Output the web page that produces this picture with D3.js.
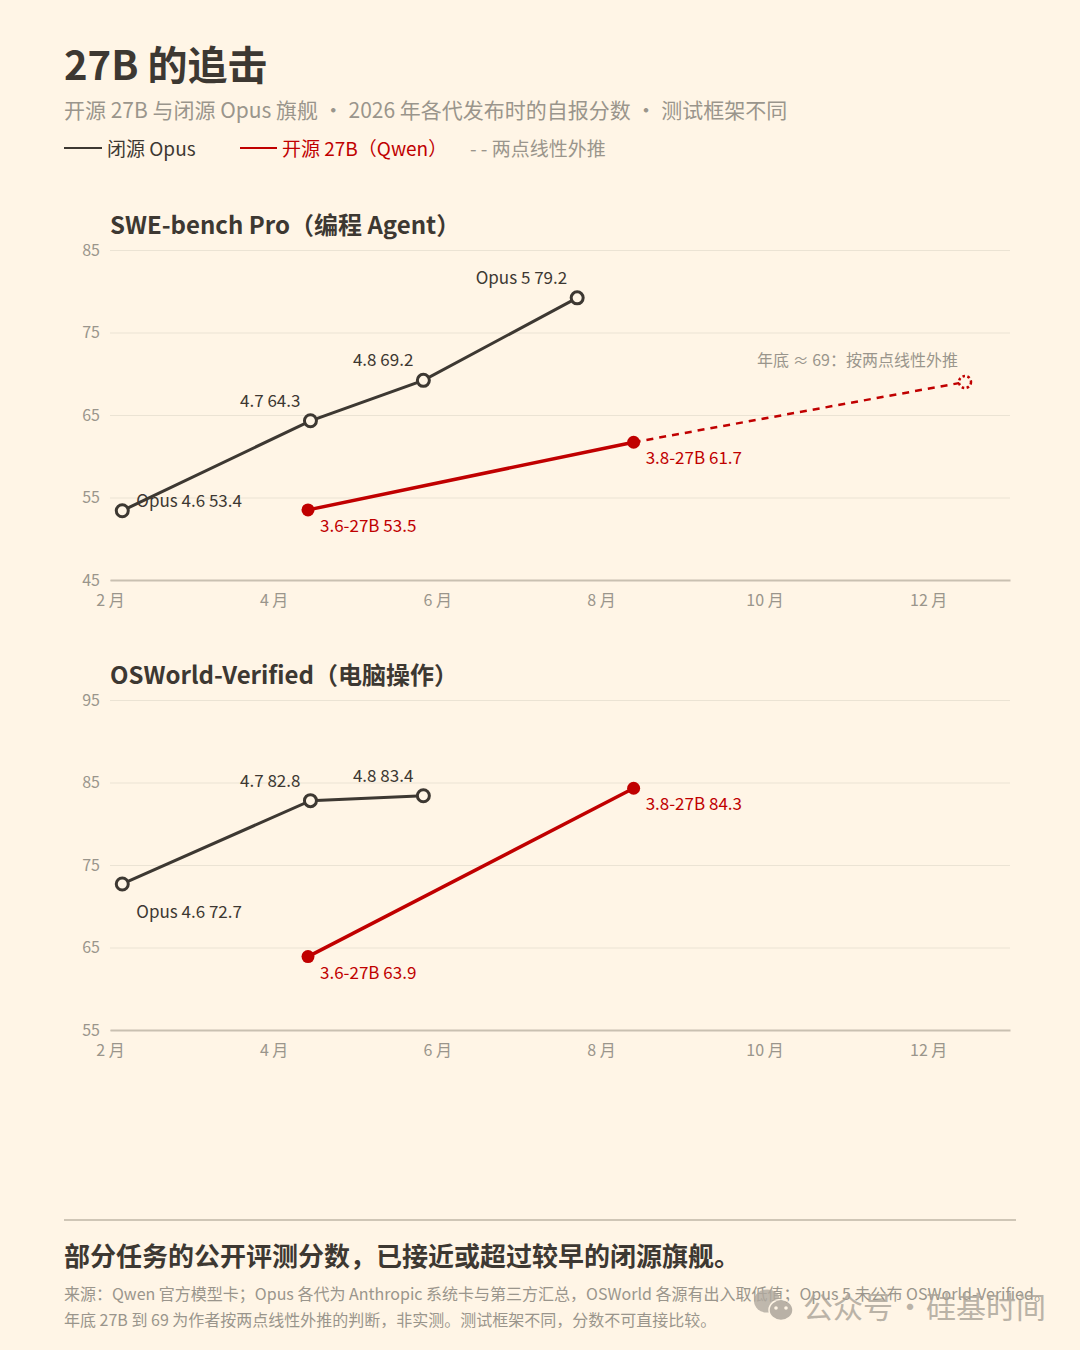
<!DOCTYPE html>
<html>
<head>
  <meta charset="utf-8">
  <title>27B 的追击</title>
  <style>
    html, body { margin: 0; padding: 0; background: #fff5e6; }
    svg { display: block; }
    text { font-family: "Noto Sans CJK SC", "Noto Sans", sans-serif; }
  </style>
</head>
<body>
<script src="https://cdnjs.cloudflare.com/ajax/libs/d3/7.8.5/d3.min.js"></script>
<script>
// months as fractional positions on the calendar
const monthTicks = [2, 4, 6, 8, 10, 12];
const monthLabels = ["2 月", "4 月", "6 月", "8 月", "10 月", "12 月"];

const sweTicks = [45, 55, 65, 75, 85];
const sweOpusNames = ["Opus 4.6", "4.7", "4.8", "Opus 5"];
const sweOpusMonths = [2.15, 4.45, 5.83, 7.71];
const sweOpusValues = [53.4, 64.3, 69.2, 79.2];
const sweQwenNames = ["3.6-27B", "3.8-27B"];
const sweQwenMonths = [4.42, 8.4];
const sweQwenValues = [53.5, 61.7];
const sweForecastMonths = [8.4, 12.45];
const sweForecastValues = [61.7, 69];

const osTicks = [55, 65, 75, 85, 95];
const osOpusNames = ["Opus 4.6", "4.7", "4.8"];
const osOpusMonths = [2.15, 4.45, 5.83];
const osOpusValues = [72.7, 82.8, 83.4];
const osQwenNames = ["3.6-27B", "3.8-27B"];
const osQwenMonths = [4.42, 8.4];
const osQwenValues = [63.9, 84.3];

const ink = "#3d3832";
const red = "#c00000";
const grey = "#9a958c";
const bg = "#fff5e6";

const svg = d3.select("body").append("svg")
  .attr("width", 1080)
  .attr("height", 1350);

svg.append("rect").attr("width", 1080).attr("height", 1350).attr("fill", bg);

function label(x, y, str, size, fill, weight) {
  return svg.append("text")
    .attr("x", x).attr("y", y)
    .attr("font-size", size)
    .attr("font-weight", weight || 400)
    .attr("fill", fill)
    .text(str);
}

// header
label(64, 80, "27B 的追击", 40, ink, 700);
label(64, 118, "开源 27B 与闭源 Opus 旗舰 ・ 2026 年各代发布时的自报分数 ・ 测试框架不同", 21, grey);

svg.append("line").attr("x1", 64).attr("x2", 102).attr("y1", 148).attr("y2", 148)
  .attr("stroke", ink).attr("stroke-width", 2);
label(107, 156, "闭源 Opus", 19, ink);
svg.append("line").attr("x1", 240).attr("x2", 277).attr("y1", 148).attr("y2", 148)
  .attr("stroke", red).attr("stroke-width", 2);
label(282, 156, "开源 27B（Qwen）", 19, red);
label(470, 156, "- - 两点线性外推", 19, grey);

// one panel: gridlines, month axis, two series and their labels
function panel(o) {
  const x = d3.scaleLinear().domain([2, 13]).range([110, 1010]);
  const y = d3.scaleLinear().domain(d3.extent(o.ticks)).range([o.bottom, o.bottom - 330]);
  const g = svg.append("g");

  label(110, o.bottom - 346, o.title, 24, ink, 700);

  const yAxis = g.append("g")
    .attr("transform", "translate(110,0)")
    .call(d3.axisLeft(y).tickValues(o.ticks).tickSize(-900).tickPadding(10));
  yAxis.select(".domain").remove();
  yAxis.selectAll("line").attr("stroke", "#ebe3d4").attr("stroke-width", 1);
  yAxis.selectAll("text").attr("font-size", 16).attr("fill", grey)
    .attr("font-family", '"Noto Sans CJK SC", sans-serif');

  const xAxis = g.append("g")
    .attr("transform", `translate(0,${o.bottom})`)
    .call(d3.axisBottom(x).tickValues(monthTicks).tickSize(0).tickPadding(15)
      .tickFormat((d, i) => monthLabels[i]));
  xAxis.select(".domain").attr("stroke", "#c9c0b1").attr("stroke-width", 2);
  xAxis.selectAll("text").attr("font-size", 16).attr("fill", grey)
    .attr("font-family", '"Noto Sans CJK SC", sans-serif');

  const line = d3.line().x(d => x(d[0])).y(d => y(d[1]));

  if (o.forecastMonths) {
    const fc = d3.zip(o.forecastMonths, o.forecastValues);
    g.append("path").attr("d", line(fc)).attr("fill", "none")
      .attr("stroke", red).attr("stroke-width", 2.5).attr("stroke-dasharray", "7 6");
    g.append("circle")
      .attr("cx", x(fc[1][0])).attr("cy", y(fc[1][1])).attr("r", 6)
      .attr("fill", bg).attr("stroke", red).attr("stroke-width", 2.5)
      .attr("stroke-dasharray", "2.5 2.5");
    label(x(fc[1][0]) - 7, y(fc[1][1]) - 16, o.forecastNote, 16, grey)
      .attr("text-anchor", "end");
  }

  const opus = d3.zip(o.opusMonths, o.opusValues);
  g.append("path").attr("d", line(opus)).attr("fill", "none")
    .attr("stroke", ink).attr("stroke-width", 3);
  g.selectAll(".opus").data(opus).enter().append("circle")
    .attr("cx", d => x(d[0])).attr("cy", d => y(d[1])).attr("r", 6)
    .attr("fill", bg).attr("stroke", ink).attr("stroke-width", 3);

  const qwen = d3.zip(o.qwenMonths, o.qwenValues);
  g.append("path").attr("d", line(qwen)).attr("fill", "none")
    .attr("stroke", red).attr("stroke-width", 3.5);
  g.selectAll(".qwen").data(qwen).enter().append("circle")
    .attr("cx", d => x(d[0])).attr("cy", d => y(d[1])).attr("r", 6.5)
    .attr("fill", red);

  // opus labels sit up and left of the marker, the first one to the right
  opus.forEach((d, i) => {
    const t = label(x(d[0]), y(d[1]), `${o.opusNames[i]} ${d[1]}`, 17, ink);
    if (i === 0) t.attr("dx", 14).attr("dy", o.firstDy);
    else t.attr("dx", -10).attr("dy", -14).attr("text-anchor", "end");
  });
  qwen.forEach((d, i) => {
    label(x(d[0]), y(d[1]), `${o.qwenNames[i]} ${d[1]}`, 17, red)
      .attr("dx", 12).attr("dy", 22);
  });
}

panel({
  title: "SWE-bench Pro（编程 Agent）", bottom: 580, ticks: sweTicks, firstDy: -4,
  opusNames: sweOpusNames, opusMonths: sweOpusMonths, opusValues: sweOpusValues,
  qwenNames: sweQwenNames, qwenMonths: sweQwenMonths, qwenValues: sweQwenValues,
  forecastMonths: sweForecastMonths, forecastValues: sweForecastValues,
  forecastNote: "年底 ≈ 69：按两点线性外推"
});

panel({
  title: "OSWorld-Verified（电脑操作）", bottom: 1030, ticks: osTicks, firstDy: 34,
  opusNames: osOpusNames, opusMonths: osOpusMonths, opusValues: osOpusValues,
  qwenNames: osQwenNames, qwenMonths: osQwenMonths, qwenValues: osQwenValues
});

// footer
svg.append("line").attr("x1", 64).attr("x2", 1016).attr("y1", 1220).attr("y2", 1220)
  .attr("stroke", "#cfc6b6").attr("stroke-width", 2);
label(64, 1266, "部分任务的公开评测分数，已接近或超过较早的闭源旗舰。", 26, ink, 700);
label(64, 1300, "来源：Qwen 官方模型卡；Opus 各代为 Anthropic 系统卡与第三方汇总，OSWorld 各源有出入取低值；Opus 5 未公布 OSWorld-Verified。", 16, grey);
label(64, 1326, "年底 27B 到 69 为作者按两点线性外推的判断，非实测。测试框架不同，分数不可直接比较。", 16, grey);

// watermark
const wm = svg.append("g").attr("opacity", 0.8);
wm.append("ellipse").attr("cx", 767).attr("cy", 1301).attr("rx", 13).attr("ry", 11.5).attr("fill", "#b0a99f");
wm.append("ellipse").attr("cx", 781).attr("cy", 1310).attr("rx", 12).attr("ry", 10.5).attr("fill", "#a8a197")
  .attr("stroke", bg).attr("stroke-width", 1.5);
wm.append("circle").attr("cx", 776).attr("cy", 1308).attr("r", 1.8).attr("fill", bg);
wm.append("circle").attr("cx", 786).attr("cy", 1308).attr("r", 1.8).attr("fill", bg);
const wmText = wm.append("text").attr("y", 1318).attr("font-size", 30).attr("fill", "#aaa398");
wmText.append("tspan").attr("x", 803).text("公众号");
wmText.append("tspan").attr("x", 895).text("·");
wmText.append("tspan").attr("x", 926).text("硅基时间");
</script>
</body>
</html>
